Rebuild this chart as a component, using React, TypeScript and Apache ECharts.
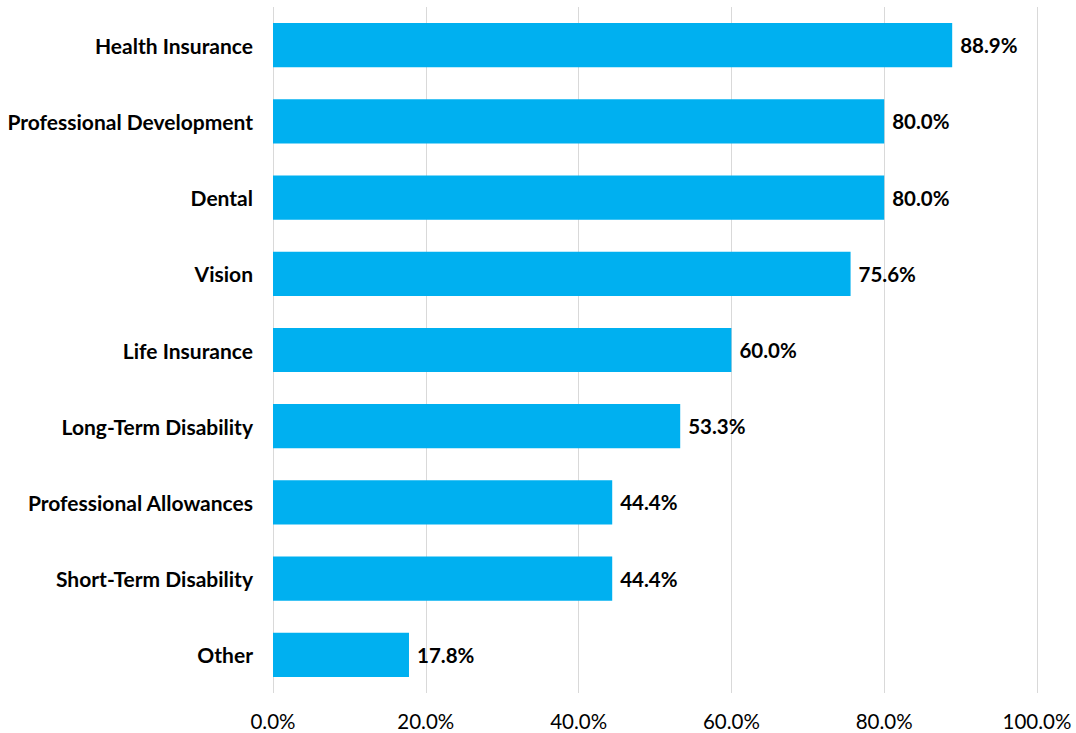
import React, { useEffect, useRef } from "react";
import * as echarts from "echarts";

const categories = [
  "Health Insurance",
  "Professional Development",
  "Dental",
  "Vision",
  "Life Insurance",
  "Long-Term Disability",
  "Professional Allowances",
  "Short-Term Disability",
  "Other",
];
const values = [88.9, 80.0, 80.0, 75.6, 60.0, 53.3, 44.4, 44.4, 17.8];
const xTicks = [0, 20, 40, 60, 80, 100];

const FONT = "Lato, 'Noto Sans', sans-serif";

export default function App() {
  const ref = useRef<HTMLDivElement>(null);
  useEffect(() => {
    if (!ref.current) return;
    const chart = echarts.init(ref.current, undefined, { renderer: "svg" });
    chart.setOption({
      animation: false,
      grid: { left: 273, right: 39, top: 7, bottom: 40, containLabel: false },
      xAxis: {
        type: "value",
        min: xTicks[0],
        max: xTicks[xTicks.length - 1],
        interval: 20,
        axisLine: { show: false },
        axisTick: { show: false },
        splitLine: { show: true, lineStyle: { color: "#d9d9d9", width: 1 } },
        axisLabel: {
          formatter: (v: number) => v.toFixed(1) + "%",
          fontFamily: FONT,
          fontSize: 20.5,
          color: "#000",
          margin: 17,
        },
      },
      yAxis: {
        type: "category",
        data: categories,
        inverse: true,
        axisLine: { show: false },
        axisTick: { show: false },
        axisLabel: {
          fontFamily: FONT,
          fontSize: 21,
          fontWeight: "bold",
          color: "#000",
          margin: 20,
        },
      },
      series: [
        {
          type: "bar",
          data: values,
          barWidth: "58%",
          itemStyle: { color: "#00B0F0" },
          label: {
            show: true,
            position: "right",
            distance: 8,
            formatter: (p: any) => p.value.toFixed(1) + "%",
            fontFamily: FONT,
            fontSize: 20.5,
            fontWeight: "bold",
            color: "#000",
          },
        },
      ],
    });
    return () => chart.dispose();
  }, []);
  return <div ref={ref} style={{ width: 1076, height: 733, position: "absolute", left: 0, top: 0 }} />;
}
